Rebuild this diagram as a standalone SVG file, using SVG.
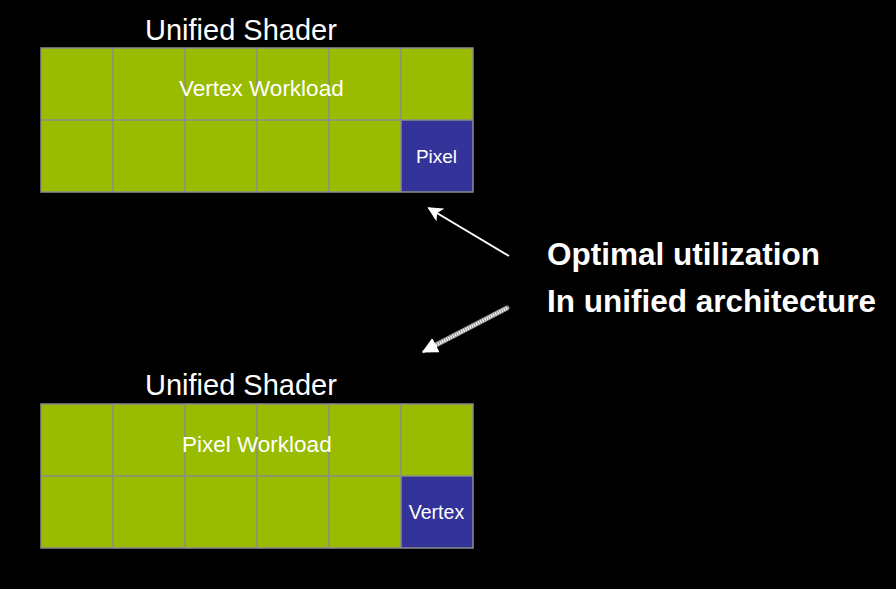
<svg xmlns="http://www.w3.org/2000/svg" width="896" height="589" viewBox="0 0 896 589">
<defs>
<style>
.bg{fill:#000}
.g{fill:#99BB00}
.b{fill:#333399}
.ln{stroke:#8c8c8c;stroke-width:1.5;fill:none}
.t{font-family:"Liberation Sans",Arial,sans-serif;fill:#fff}
.title{font-size:29px}
.wl{font-size:22.5px}
.sm{font-size:19px;text-anchor:middle}
.big{font-size:31.5px;font-weight:bold}
</style>
<marker id="ah" viewBox="0 0 12 12" refX="11" refY="6" markerWidth="15" markerHeight="15" markerUnits="userSpaceOnUse" orient="auto">
<path d="M0,0 L12,6 L0,12 L3,6 Z" fill="#fff"/>
</marker>
<marker id="ah2" viewBox="0 0 12 12" refX="11" refY="6" markerWidth="16" markerHeight="16" markerUnits="userSpaceOnUse" orient="auto">
<path d="M0,0 L12,6 L0,12 Z" fill="#fff"/>
</marker>
</defs>
<rect class="bg" x="0" y="0" width="896" height="589"/>

<g id="shader-top">
<text class="t title" x="145" y="40">Unified Shader</text>
<rect class="g" x="41" y="48" width="432" height="144"/>
<rect class="b" x="401" y="120" width="72" height="72"/>
<path class="ln" d="M41,48H473V192H41Z M41,120H473 M113,48V192 M185,48V192 M257,48V192 M329,48V192 M401,48V192"/>
<text class="t wl" x="179" y="96">Vertex Workload</text>
<text class="t sm" x="436.5" y="163">Pixel</text>
</g>

<g id="shader-bottom">
<text class="t title" x="145" y="395">Unified Shader</text>
<rect class="g" x="41" y="404" width="432" height="144"/>
<rect class="b" x="401" y="476" width="72" height="72"/>
<path class="ln" d="M41,404H473V548H41Z M41,476H473 M113,404V548 M185,404V548 M257,404V548 M329,404V548 M401,404V548"/>
<text class="t wl" x="182" y="452">Pixel Workload</text>
<text class="t sm" x="436.5" y="518.5" style="font-size:19.5px">Vertex</text>
</g>

<g id="caption">
<text class="t big" x="547" y="265">Optimal utilization</text>
<text class="t big" x="547" y="311.5">In unified architecture</text>
</g>

<g id="connectors">
<line x1="509" y1="256" x2="428.5" y2="208" stroke="#fff" stroke-width="2" marker-end="url(#ah)"/>
<line x1="507" y1="308" x2="430" y2="348" stroke="#9a9a9a" stroke-width="5" stroke-linecap="round"/>
<line x1="507" y1="308" x2="423" y2="352" stroke="#fff" stroke-width="3" stroke-dasharray="1.2 1.2" marker-end="url(#ah2)"/>
</g>
</svg>
